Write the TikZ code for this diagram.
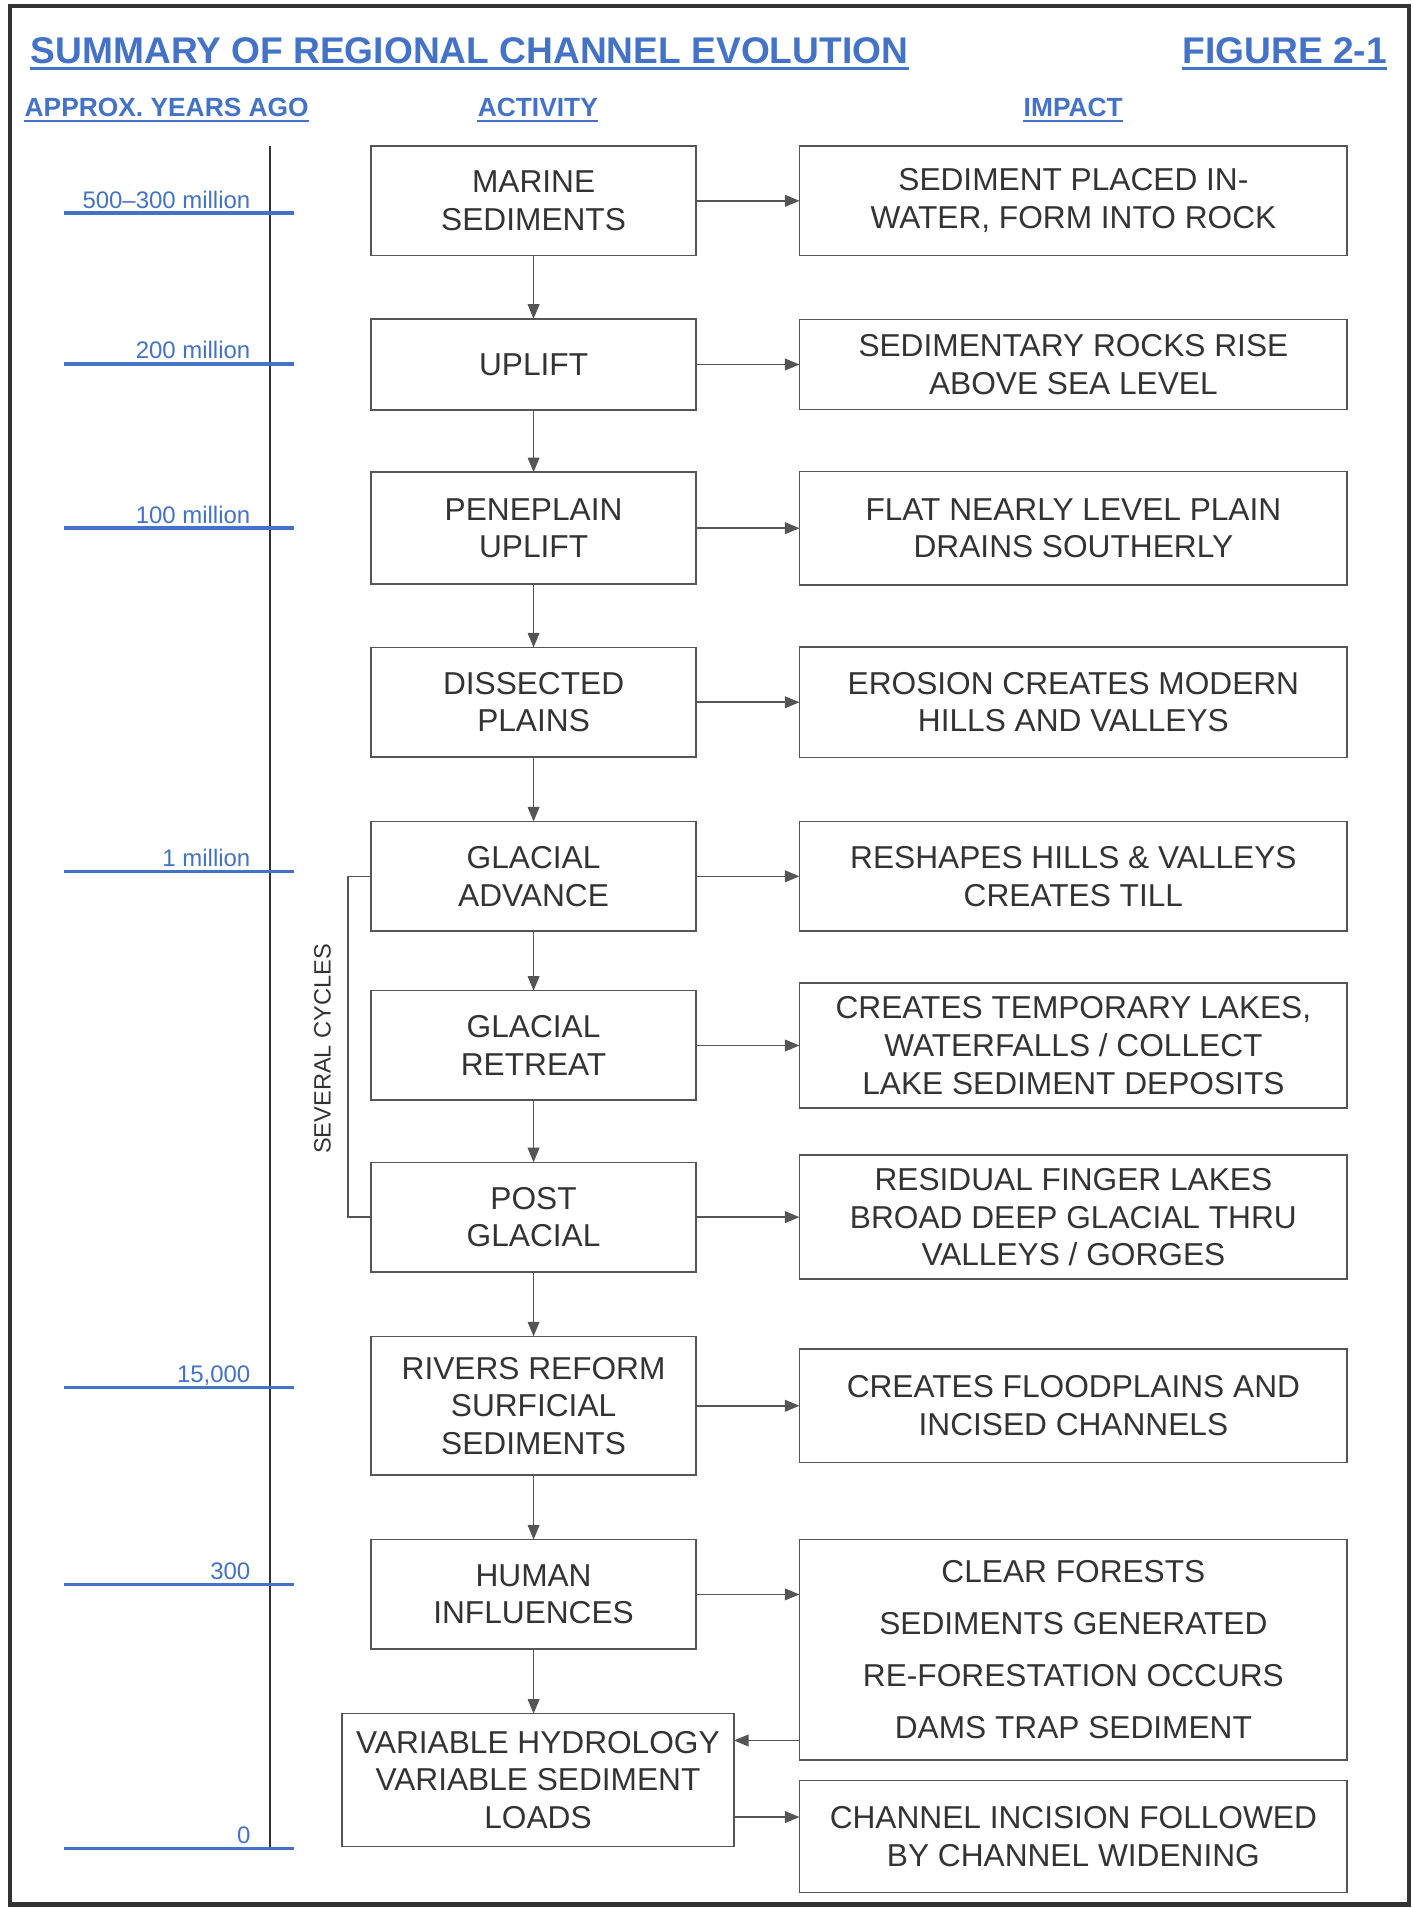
\documentclass[tikz,border=0pt]{standalone}
\usepackage{fontspec}
\setmainfont{Liberation Sans}
\usetikzlibrary{arrows.meta, positioning, calc}
\definecolor{chartblue}{HTML}{4372C6}
\definecolor{boxgray}{HTML}{555555}
\definecolor{textgray}{HTML}{333333}
\tikzset{
  activity/.style={draw=boxgray,line width=0.9pt,text=textgray,align=center,inner sep=3pt,outer sep=0pt,
    minimum width=6.675cm,minimum height=2.25cm,font=\fontsize{18.5}{22}\selectfont},
  impact/.style={activity,minimum width=11.25cm},
  flow/.style={draw=boxgray,line width=0.9pt,-{Triangle[length=0.3cm,width=0.24cm]}},
  tick/.style={draw=chartblue,line width=2pt},
  ticklabel/.style={text=chartblue,font=\fontsize{14}{16}\selectfont,anchor=base east,inner sep=0pt},
  heading/.style={text=chartblue,font=\bfseries\fontsize{15.4}{18}\selectfont,inner sep=0pt},
  bigheading/.style={heading,font=\bfseries\fontsize{21.7}{26}\selectfont},
  cyclelabel/.style={text=textgray,font=\fontsize{13.8}{16}\selectfont,inner sep=0pt},
}

\begin{document}
\begin{tikzpicture}[x=0.025cm,y=-0.025cm]
	\useasboundingbox (0,0) rectangle (1161,1568);
	\draw[gray!40!black,line width=2.5pt] (8,5) rectangle (1158,1565);

	\node[bigheading,anchor=base west] (T) at (25,52) {SUMMARY OF REGIONAL CHANNEL EVOLUTION};
	\node[bigheading,anchor=base east] (F) at (1140,52) {FIGURE 2-1};
	\node[heading,anchor=base west] (Y) at (20,96) {APPROX. YEARS AGO};
	\node[heading,anchor=base] (H1) at (442,96) {ACTIVITY};
	\node[heading,anchor=base] (H2) at (882,96) {IMPACT};
	\foreach \n/\d in {T/3,F/3,Y/2.5,H1/2.5,H2/2.5}
	  \draw[chartblue,line width=1.3pt] ([yshift=-\d pt]\n.base west) -- ([yshift=-\d pt]\n.base east);

	\draw[boxgray!60!black,line width=1pt] (222,120) -- (222,1520);
	\foreach \y/\t [count=\k] in {175/500–300 million,299/200 million,434/100 million,716/1 million,1140/{15,000},1302/300,1519/0} {
	  \draw[tick] (53,\y) -- (242,\y);
	  \node[ticklabel] (L\k) at (206,\y-4) {\t};
	}

	\node[activity] (A1) at (438.5,165) {MARINE\\SEDIMENTS};
	\node[activity,below=1.3cm of A1,minimum height=1.875cm] (A2) {UPLIFT};
	\node[activity,below=1.275cm of A2,minimum height=2.3cm] (A3) {PENEPLAIN\\UPLIFT};
	\node[activity,below=1.3cm of A3] (A4) {DISSECTED\\PLAINS};
	\node[activity,below=1.325cm of A4] (A5) {GLACIAL\\ADVANCE};
	\node[activity,below=1.225cm of A5] (A6) {GLACIAL\\RETREAT};
	\node[activity,below=1.275cm of A6] (A7) {POST\\GLACIAL};
	\node[activity,below=1.325cm of A7,minimum height=2.85cm] (A8) {RIVERS REFORM\\SURFICIAL\\SEDIMENTS};
	\node[activity,below=1.325cm of A8] (A9) {HUMAN\\INFLUENCES};
	\node[activity,below=1.325cm of A9,minimum width=8.05cm,minimum height=2.725cm,xshift=0.09cm] (A10)
	  {VARIABLE HYDROLOGY\\VARIABLE SEDIMENT\\LOADS};

	\node[impact,right=2.125cm of A1] (I1) {SEDIMENT PLACED IN-\\WATER, FORM INTO ROCK};
	\node[impact,right=2.125cm of A2,minimum height=1.85cm] (I2) {SEDIMENTARY ROCKS RISE\\ABOVE SEA LEVEL};
	\node[impact,right=2.125cm of A3,minimum height=2.325cm] (I3) {FLAT NEARLY LEVEL PLAIN\\DRAINS SOUTHERLY};
	\node[impact,right=2.125cm of A4,minimum height=2.275cm] (I4) {EROSION CREATES MODERN\\HILLS AND VALLEYS};
	\node[impact,right=2.125cm of A5] (I5) {RESHAPES HILLS \& VALLEYS\\CREATES TILL};
	\node[impact,right=2.125cm of A6,minimum height=2.575cm] (I6)
	  {CREATES TEMPORARY LAKES,\\WATERFALLS / COLLECT\\LAKE SEDIMENT DEPOSITS};
	\node[impact,right=2.125cm of A7,minimum height=2.55cm] (I7)
	  {RESIDUAL FINGER LAKES\\BROAD DEEP GLACIAL THRU\\VALLEYS / GORGES};
	\node[impact,right=2.125cm of A8,minimum height=2.325cm] (I8) {CREATES FLOODPLAINS AND\\INCISED CHANNELS};
	\node[impact,right=2.125cm of A9.north east,anchor=north west,minimum height=4.525cm,
	  font=\fontsize{18.5}{30.5}\selectfont] (I9)
	  {CLEAR FORESTS\\SEDIMENTS GENERATED\\RE-FORESTATION OCCURS\\DAMS TRAP SEDIMENT};
	\node[impact,below=0.425cm of I9,minimum height=2.3cm] (I10) {CHANNEL INCISION FOLLOWED\\BY CHANNEL WIDENING};

	\foreach \i [count=\j from 2] in {1,...,8}
	  \draw[flow] (A\i) -- (A\j);
	\draw[flow] (A9) -- (A9 |- A10.north);
	\foreach \i in {1,...,9}
	  \draw[flow] (A\i) -- (A\i -| I\i.west);
	\coordinate (h1) at ([yshift=0.4cm]I9.south west);
	\draw[flow] (h1) -- (h1 -| A10.east);
	\coordinate (h2) at ([yshift=-0.76cm]A10.east);
	\draw[flow] (h2) -- (h2 -| I10.west);

	\draw[boxgray,line width=0.9pt] (A5.west) -- ++(-19,0) |- (A7.west);
	\node[cyclelabel,rotate=90] (C) at (265,862) {SEVERAL CYCLES};
\end{tikzpicture}
\end{document}
